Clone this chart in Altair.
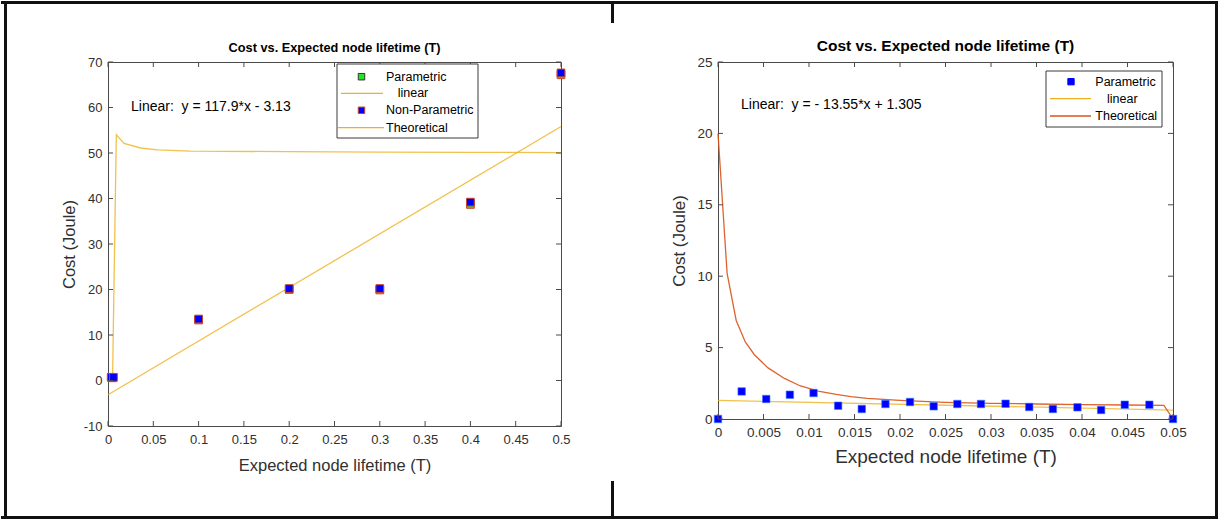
import altair as alt
import pandas as pd

# ---------------- left panel: T from 0 to 0.5 ----------------
left_param_x = [0.005, 0.1, 0.2, 0.3, 0.4, 0.5]
left_param_y = [0.6, 13.3, 20.0, 19.9, 38.7, 67.2]
left_nonparam_x = [0.0035, 0.006, 0.1, 0.2, 0.3, 0.4, 0.5]
left_nonparam_y = [0.7, 0.7, 13.5, 20.2, 20.2, 39.2, 67.6]
left_theory_x = [0.005, 0.0092, 0.0177, 0.036, 0.0546, 0.091, 0.2, 0.3, 0.4, 0.5]
left_theory_y = [0.2, 54.0, 52.1, 51.1, 50.7, 50.4, 50.3, 50.2, 50.15, 50.1]
left_fit_slope, left_fit_icpt = 117.9, -3.13
left_fit_range = [0.0, 0.5]
left_xticks = [0, 0.05, 0.1, 0.15, 0.2, 0.25, 0.3, 0.35, 0.4, 0.45, 0.5]
left_yticks = [-10, 0, 10, 20, 30, 40, 50, 60, 70]

# ---------------- right panel: T from 0 to 0.05 ----------------
right_param_x = [0, 0.0026, 0.0053, 0.0079, 0.0105, 0.0132, 0.0158, 0.0184, 0.0211, 0.0237,
                 0.0263, 0.0289, 0.0316, 0.0342, 0.0368, 0.0395, 0.0421, 0.0447, 0.0474, 0.05]
right_param_y = [0, 1.93, 1.40, 1.70, 1.82, 0.93, 0.70, 1.05, 1.19, 0.89,
                 1.05, 1.05, 1.07, 0.84, 0.70, 0.82, 0.63, 1.00, 1.00, 0]
right_theory_x = [0, 0.001, 0.002, 0.003, 0.004, 0.0055, 0.0073, 0.009, 0.011, 0.013,
                  0.0146, 0.0164, 0.02, 0.025, 0.03, 0.035, 0.04, 0.045, 0.049, 0.05]
right_theory_y = [20, 10.2, 6.9, 5.4, 4.5, 3.58, 2.84, 2.33, 1.95, 1.72,
                  1.56, 1.44, 1.30, 1.17, 1.10, 1.05, 1.01, 0.98, 0.96, 0]
right_fit_slope, right_fit_icpt = -13.55, 1.305
right_fit_range = [0.0, 0.05]
right_xticks = [0, 0.005, 0.01, 0.015, 0.02, 0.025, 0.03, 0.035, 0.04, 0.045, 0.05]
right_yticks = [0, 5, 10, 15, 20, 25]

TITLE = "Cost vs. Expected node lifetime (T)"
XTITLE = "Expected node lifetime (T)"
YTITLE = "Cost (Joule)"
NB = "\u00a0"  # keeps the double space after "Linear:"

FONT = "Liberation Sans"
AXIS_GRAY = "#4a4a4a"
LABEL_GRAY = "#303030"
YELLOW = "#EDB120"
ORANGE = "#D95319"
BLUE = "#0000FF"
GREEN = "#22E622"
EDGE_RED = "#C8462A"
FRAME = "#111111"

one = pd.DataFrame({"k": [0]})


def box(x1, x2, y1, y2, fill=FRAME, stroke=None, sw=0):
    kw = dict(fill=fill)
    if stroke:
        kw.update(stroke=stroke, strokeWidth=sw)
    return alt.Chart(one).mark_rect(**kw).encode(
        x=alt.value(x1), x2=alt.value(x2), y=alt.value(y1), y2=alt.value(y2))


def seg(x1, x2, y, color, sw):
    return alt.Chart(one).mark_rule(color=color, strokeWidth=sw).encode(
        x=alt.value(x1), x2=alt.value(x2), y=alt.value(y))


def txt(x, y, s, size, weight="normal", color="#000", align="left"):
    return alt.Chart(one).mark_text(align=align, baseline="middle", font=FONT,
                                    fontSize=size, fontWeight=weight, color=color).encode(
        x=alt.value(x), y=alt.value(y), text=alt.value(s))


def sq(x, y, fill, stroke, size):
    return alt.Chart(one).mark_point(shape="square", filled=True, fill=fill, stroke=stroke,
                                     strokeWidth=1, size=size, opacity=1).encode(
        x=alt.value(x), y=alt.value(y))


def axes(xticks, yticks, lab_size, xt_size, yt_size, xt_pad, yt_pad, x_lab_pad):
    common = dict(labelExpr="'' + datum.value", ticks=False, domain=False, grid=False,
                  labelFlush=False, labelOverlap=False, labelFontSize=lab_size)
    xa = alt.Axis(values=xticks, labelPadding=x_lab_pad, title=XTITLE, titlePadding=xt_pad,
                  titleFontSize=xt_size, **common)
    ya = alt.Axis(values=yticks, labelPadding=6, title=YTITLE, titlePadding=yt_pad,
                  titleFontSize=yt_size, **common)
    return xa, ya


def inner_ticks(xticks, yticks, X, Y, w, h, n=5):
    tx = pd.DataFrame({"x": xticks})
    ty = pd.DataFrame({"y": yticks})
    style = dict(color=AXIS_GRAY, strokeWidth=1)
    return [
        alt.Chart(tx).mark_rule(**style).encode(x=X, y=alt.value(h), y2=alt.value(h - n)),
        alt.Chart(tx).mark_rule(**style).encode(x=X, y=alt.value(0), y2=alt.value(n)),
        alt.Chart(ty).mark_rule(**style).encode(y=Y, x=alt.value(0), x2=alt.value(n)),
        alt.Chart(ty).mark_rule(**style).encode(y=Y, x=alt.value(w - n), x2=alt.value(w)),
    ]


def fit_frame(slope, icpt, rng):
    return pd.DataFrame({"x": rng, "y": [slope * v + icpt for v in rng]})


# ---------------- left panel ----------------
LW, LH = 453, 364          # plot area; origin sits at (107, 61) on the page
lxs = alt.Scale(domain=[0, 0.5], nice=False, zero=False)
lys = alt.Scale(domain=[-10, 70], nice=False, zero=False)
lxa, lya = axes(left_xticks, left_yticks, 13, 16.5, 16.5, 11, 6, 7)
LX = alt.X("x:Q", scale=lxs, axis=lxa)
LY = alt.Y("y:Q", scale=lys, axis=lya)

l_param = pd.DataFrame({"x": left_param_x, "y": left_param_y})
l_nonparam = pd.DataFrame({"x": left_nonparam_x, "y": left_nonparam_y})
l_theory = pd.DataFrame({"x": left_theory_x, "y": left_theory_y})
l_fit = fit_frame(left_fit_slope, left_fit_icpt, left_fit_range)

left_layers = [
    alt.Chart(l_fit).mark_line(color=YELLOW, strokeWidth=1.3, opacity=0.8).encode(x=LX, y=LY),
    alt.Chart(l_theory).mark_line(color=YELLOW, strokeWidth=1.3, opacity=0.8).encode(x=LX, y=LY),
    alt.Chart(l_param).mark_point(shape="square", filled=True, fill=GREEN, stroke=EDGE_RED,
                                  strokeWidth=1, size=60, opacity=1).encode(x=LX, y=LY),
    alt.Chart(l_nonparam).mark_point(shape="square", filled=True, fill=BLUE, stroke=EDGE_RED,
                                     strokeWidth=1, size=60, opacity=1).encode(x=LX, y=LY),
]
left_layers += inner_ticks(left_xticks, left_yticks, LX, LY, LW, LH)
left_layers += [
    # legend
    box(229, 370, 2, 76, fill="white", stroke="#3a3a3a", sw=1),
    sq(253.5, 14.7, GREEN, "#333", 42),
    seg(233, 275, 31.3, YELLOW, 1.3),
    sq(253.5, 48.3, BLUE, EDGE_RED, 42),
    seg(230, 276, 65.7, YELLOW, 1.3),
    txt(278, 14.7, "Parametric", 12.5),
    txt(289.7, 31.3, "linear", 12.5),
    txt(278, 48.3, "Non-Parametric", 12.5),
    txt(278, 65.7, "Theoretical", 12.5),
    # fitted-line equation
    txt(23, 45, "Linear:" + NB + " y = 117.9*x - 3.13", 14),
    # panel title
    txt(LW / 2, -14, TITLE, 12.75, weight="bold", align="center"),
    # page frame (left half)
    box(-107, 504, -61, -58),
    box(-107, 504, 454, 457),
    box(-104, -101, -61, 457),
    box(503, 506, -61, -39),
    box(503, 506, 419, 457),
]
left = alt.layer(*left_layers).properties(width=LW, height=LH)

# ---------------- right panel ----------------
RW, RH = 455, 357          # plot area; origin sits at (717, 61) on the page
rxs = alt.Scale(domain=[0, 0.05], nice=False, zero=False)
rys = alt.Scale(domain=[0, 25], nice=False, zero=False)
rxa, rya = axes(right_xticks, right_yticks, 13.5, 19, 17, 9, 8, 6)
RX = alt.X("x:Q", scale=rxs, axis=rxa)
RY = alt.Y("y:Q", scale=rys, axis=rya)

r_param = pd.DataFrame({"x": right_param_x, "y": right_param_y})
r_theory = pd.DataFrame({"x": right_theory_x, "y": right_theory_y})
r_fit = fit_frame(right_fit_slope, right_fit_icpt, right_fit_range)

right_layers = [
    alt.Chart(r_fit).mark_line(color=YELLOW, strokeWidth=1.3, opacity=0.8).encode(x=RX, y=RY),
    alt.Chart(r_theory).mark_line(color=ORANGE, strokeWidth=1.3, opacity=0.9).encode(x=RX, y=RY),
    alt.Chart(r_param).mark_point(shape="square", filled=True, fill=BLUE, stroke="#3b7dff",
                                  strokeWidth=0.6, size=56, opacity=1).encode(x=RX, y=RY),
]
right_layers += inner_ticks(right_xticks, right_yticks, RX, RY, RW, RH)
right_layers += [
    box(328, 444, 9, 65, fill="white", stroke="#3a3a3a", sw=1),
    sq(353, 19.7, BLUE, BLUE, 40),
    seg(332, 373, 36.7, YELLOW, 1.3),
    seg(332, 373, 54, ORANGE, 1.3),
    txt(377.3, 19.7, "Parametric", 12.5),
    txt(389, 36.7, "linear", 12.5),
    txt(377.3, 54, "Theoretical", 12.5),
    txt(23, 43, "Linear:" + NB + " y = - 13.55*x + 1.305", 14),
    txt(RW / 2, -16, TITLE, 15.5, weight="bold", align="center"),
    # page frame (right half)
    box(-107, 500, -61, -58),
    box(-107, 500, 454, 457),
    box(497, 500, -61, 457),
]
right = alt.layer(*right_layers).properties(width=RW, height=RH)

chart = (
    alt.hconcat(left, right, spacing=157, bounds="flush")
    .properties(padding=0, background="white")
    .configure_view(stroke=AXIS_GRAY, strokeWidth=1)
    .configure_axis(labelFont=FONT, labelColor=LABEL_GRAY,
                    titleFont=FONT, titleFontWeight="normal", titleColor=LABEL_GRAY)
)

chart.save("out.html", embed_options={"renderer": "svg", "actions": False})
